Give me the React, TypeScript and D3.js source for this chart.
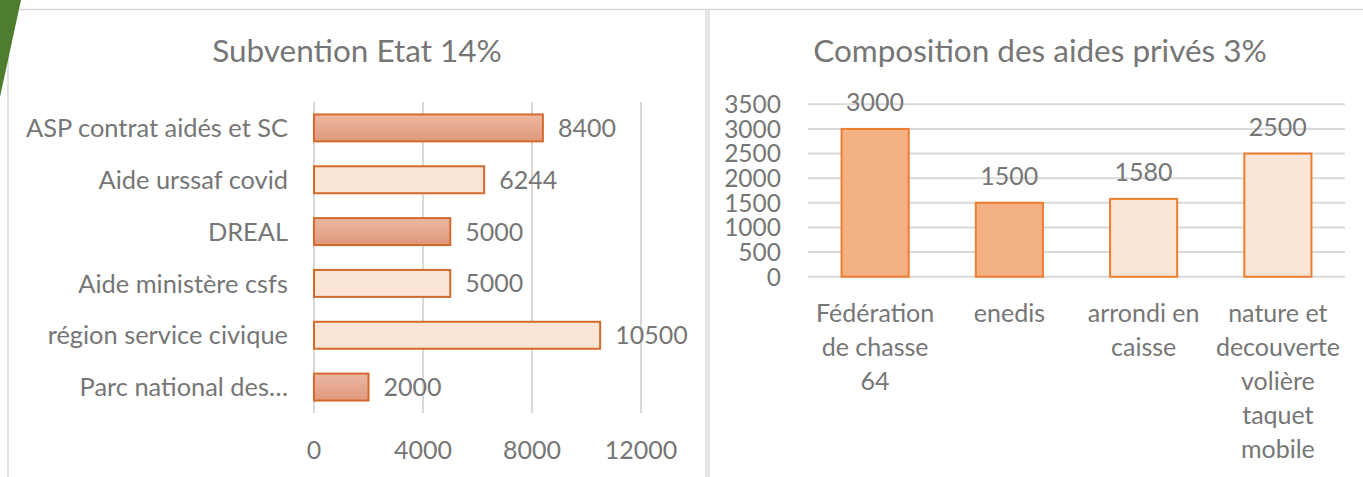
import { useEffect, useRef } from "react";
import * as d3 from "d3";

// Subvention Etat (horizontal bars)
const subCategories = [
  "ASP contrat aidés et SC",
  "Aide urssaf covid",
  "DREAL",
  "Aide ministère csfs",
  "région service civique",
  "Parc national des…",
];
const subValues = [8400, 6244, 5000, 5000, 10500, 2000];
const subTicks = [0, 4000, 8000, 12000];

// Composition des aides privés (vertical bars)
const privCategories = [
  "Fédération de chasse 64",
  "enedis",
  "arrondi en caisse",
  "nature et decouverte volière taquet mobile",
];
const privValues = [3000, 1500, 1580, 2500];
const privTicks = [0, 500, 1000, 1500, 2000, 2500, 3000, 3500];

const W = 1363;
const H = 477;
const FONT = "Lato, 'Open Sans', sans-serif";
const TXT = "#767676";
const GRID = "#d9d9d9";

function wrap(sel, width, lineHeight) {
  sel.each(function () {
    const text = d3.select(this);
    const words = text.text().split(/\s+/);
    const x = text.attr("x");
    const y = text.attr("y");
    text.text(null);
    let line = [];
    let lineNo = 0;
    let tspan = text.append("tspan").attr("x", x).attr("y", y);
    for (const w of words) {
      line.push(w);
      tspan.text(line.join(" "));
      if (tspan.node().getComputedTextLength() > width && line.length > 1) {
        line.pop();
        tspan.text(line.join(" "));
        line = [w];
        lineNo++;
        tspan = text.append("tspan").attr("x", x).attr("y", +y + lineNo * lineHeight).text(w);
      }
    }
  });
}

const App = () => {
  const svgRef = useRef();

  useEffect(() => {
    const svg = d3.select(svgRef.current);
    svg.selectAll("*").remove();

    const defs = svg.append("defs");
    const grad = defs.append("linearGradient")
      .attr("id", "subGrad")
      .attr("x1", 0).attr("y1", 0).attr("x2", 0).attr("y2", 1);
    grad.append("stop").attr("offset", "0%").attr("stop-color", "#ebb8a3");
    grad.append("stop").attr("offset", "100%").attr("stop-color", "#df987b");

    // panel frames
    svg.append("line").attr("x1", 8).attr("x2", W).attr("y1", 9.5).attr("y2", 9.5)
      .attr("stroke", GRID).attr("stroke-width", 1.5);
    svg.append("line").attr("x1", 8).attr("x2", 8).attr("y1", 9.5).attr("y2", H)
      .attr("stroke", GRID).attr("stroke-width", 1.5);
    svg.append("line").attr("x1", 706).attr("x2", 706).attr("y1", 9.5).attr("y2", H)
      .attr("stroke", GRID).attr("stroke-width", 1.5);
    svg.append("line").attr("x1", 708.5).attr("x2", 708.5).attr("y1", 9.5).attr("y2", H)
      .attr("stroke", GRID).attr("stroke-width", 2);

    // ---------- left chart ----------
    const left = svg.append("g");
    left.append("text")
      .attr("x", 357).attr("y", 62)
      .attr("text-anchor", "middle")
      .style("font-size", "31.5px").style("fill", TXT)
      .text("Subvention Etat 14%");

    const x = d3.scaleLinear().domain([0, 12000]).range([314, 641]);
    const y = d3.scaleBand().domain(subCategories).range([102, 413])
      .paddingInner(0.48).paddingOuter(0.24);

    left.append("g")
      .selectAll("line")
      .data(subTicks)
      .join("line")
      .attr("x1", d => x(d)).attr("x2", d => x(d))
      .attr("y1", 102).attr("y2", 413)
      .attr("stroke", GRID).attr("stroke-width", 2);

    left.append("g")
      .selectAll("text")
      .data(subTicks)
      .join("text")
      .attr("x", d => x(d)).attr("y", 459)
      .attr("text-anchor", "middle")
      .style("font-size", "25px").style("fill", TXT)
      .text(d => d);

    const subFills = ["url(#subGrad)", "#fbe5d7", "url(#subGrad)", "#fbe5d7", "#fbe5d7", "url(#subGrad)"];
    left.append("g")
      .selectAll("rect")
      .data(subValues)
      .join("rect")
      .attr("x", x(0))
      .attr("y", (d, i) => y(subCategories[i]))
      .attr("width", d => x(d) - x(0))
      .attr("height", y.bandwidth())
      .attr("fill", (d, i) => subFills[i])
      .attr("stroke", "#d36a2c")
      .attr("stroke-width", 2);

    left.append("g")
      .selectAll("text")
      .data(subCategories)
      .join("text")
      .attr("x", 288)
      .attr("y", d => y(d) + y.bandwidth() / 2)
      .attr("dy", "0.36em")
      .attr("text-anchor", "end")
      .style("font-size", "25.4px").style("fill", TXT)
      .text(d => d);

    left.append("g")
      .selectAll("text")
      .data(subValues)
      .join("text")
      .attr("x", d => x(d) + 15)
      .attr("y", (d, i) => y(subCategories[i]) + y.bandwidth() / 2)
      .attr("dy", "0.36em")
      .style("font-size", "25px").style("fill", TXT)
      .text(d => d);

    // ---------- right chart ----------
    const right = svg.append("g");
    right.append("text")
      .attr("x", 1040).attr("y", 62)
      .attr("text-anchor", "middle")
      .style("font-size", "31.5px").style("fill", TXT)
      .text("Composition des aides privés 3%");

    const xb = d3.scaleBand().domain(privCategories).range([808, 1345])
      .paddingInner(0.5).paddingOuter(0.25);
    const yl = d3.scaleLinear().domain([0, 3500]).range([276.7, 104.3]);

    right.append("g")
      .selectAll("line")
      .data(privTicks)
      .join("line")
      .attr("x1", 808).attr("x2", 1345)
      .attr("y1", d => yl(d)).attr("y2", d => yl(d))
      .attr("stroke", GRID).attr("stroke-width", 2);

    right.append("g")
      .selectAll("text")
      .data(privTicks)
      .join("text")
      .attr("x", 781).attr("y", d => yl(d))
      .attr("dy", "0.36em")
      .attr("text-anchor", "end")
      .style("font-size", "24.5px").style("fill", TXT)
      .text(d => d);

    const privFills = ["#f4b183", "#f4b183", "#fbe5d6", "#fbe5d6"];
    right.append("g")
      .selectAll("rect")
      .data(privValues)
      .join("rect")
      .attr("x", (d, i) => xb(privCategories[i]))
      .attr("y", d => yl(d))
      .attr("width", xb.bandwidth())
      .attr("height", d => yl(0) - yl(d))
      .attr("fill", (d, i) => privFills[i])
      .attr("stroke", "#ed7d31")
      .attr("stroke-width", 2);

    right.append("g")
      .selectAll("text")
      .data(privValues)
      .join("text")
      .attr("x", (d, i) => xb(privCategories[i]) + xb.bandwidth() / 2)
      .attr("y", d => yl(d) - 18)
      .attr("text-anchor", "middle")
      .style("font-size", "25px").style("fill", TXT)
      .text(d => d);

    right.append("g")
      .selectAll("text")
      .data(privCategories)
      .join("text")
      .attr("x", d => xb(d) + xb.bandwidth() / 2)
      .attr("y", 322)
      .attr("text-anchor", "middle")
      .style("font-size", "25px").style("fill", TXT)
      .text(d => d)
      .call(wrap, 130, 34);

    // green corner shape
    svg.append("polygon")
      .attr("points", "0,0 21,0 0,97")
      .attr("fill", "#4e7d30");

    return () => {
      svg.selectAll("*").remove();
    };
  }, []);

  return (
    <svg
      ref={svgRef}
      width={W}
      height={H}
      style={{ position: "absolute", left: 0, top: 0, background: "#fff", fontFamily: FONT }}
    ></svg>
  );
};

export default App;
